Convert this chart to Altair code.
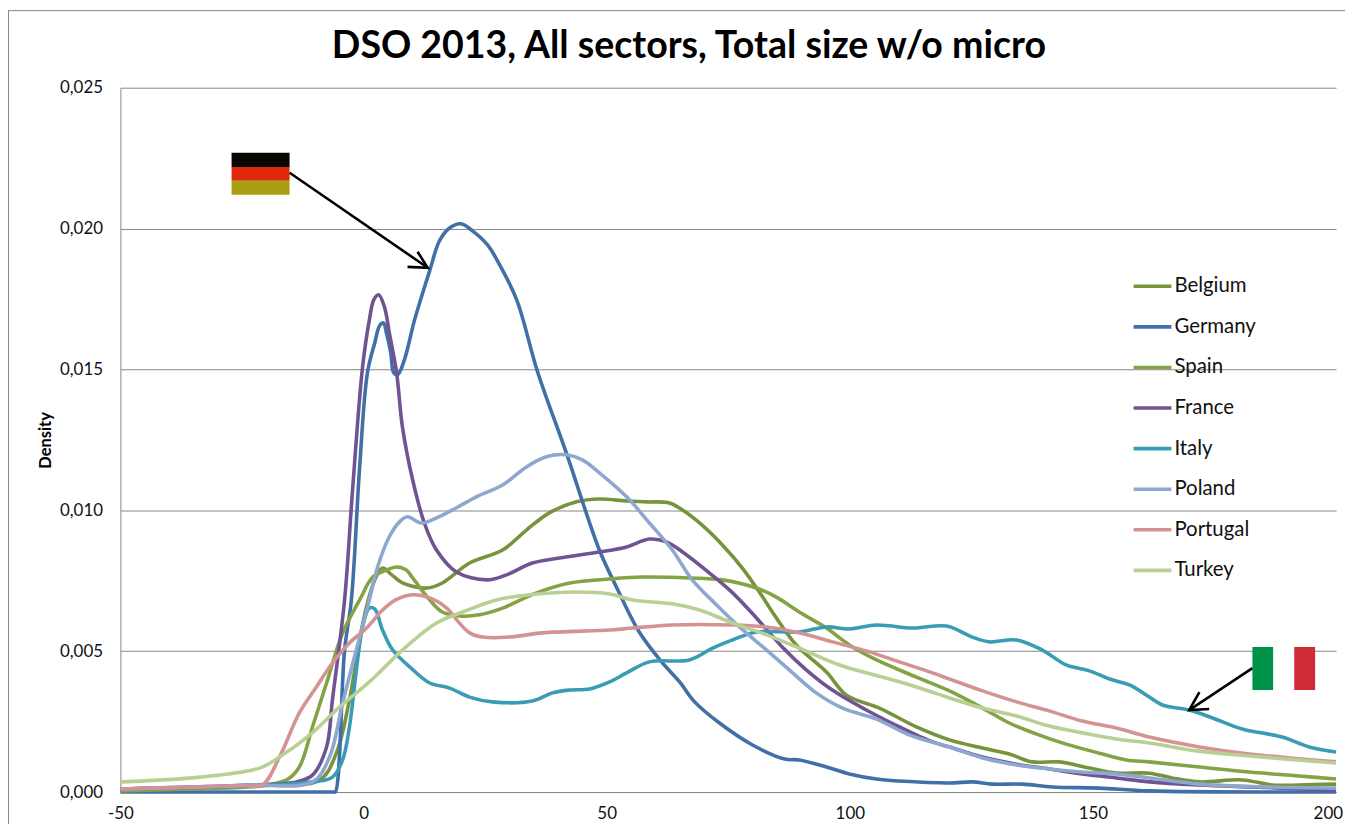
import altair as alt
import pandas as pd

# density values are in thousandths
countries = ["Belgium", "Germany", "Spain", "France", "Italy", "Poland", "Portugal", "Turkey"]
colors = ["#77933C", "#4170A6", "#84A345", "#6F5393", "#3A9CB4", "#8CA8D0", "#D49393", "#B9D094"]

belgium_x = [-50,-35,-21.4,-9,-5.6,-2.9,-.8,.6,2.3,3.9,5.8,8,13,16.2,21.8,28.6,33.5,38.2,43.8,48.5,54.1,58.2,62.9,65.6,69.1,73.8,77.9,81.4,84.9,89,95.2,99.3,106.1,113.7,120.5,127.3,132.8,137.5,143.1,149.3,154.8,161.6,166.3,171.9,180.7,186.9,192.4,200]
belgium_y = [.07,.15,.25,.43,1.38,3.27,5.4,6.57,7.53,7.95,7.71,7.42,7.24,7.42,8.13,8.59,9.3,9.91,10.3,10.4,10.33,10.3,10.26,10.01,9.55,8.77,7.95,7.1,6.18,5.22,4.26,3.44,2.98,2.31,1.85,1.56,1.35,1.07,1.07,.85,.67,.67,.5,.36,.43,.25,.25,.28]

germany_x = [-50,-25,-12,-7,-6.2,-5.8,-3.9,-2.5,-.8,.8,2.3,3.3,4.1,4.7,5.6,6.2,7,8.4,10.5,13.6,15.6,17.7,20,22.4,25.5,28,31.5,35.8,41.7,48.5,52,56.7,61.3,65,68.1,73.2,80,86.6,89.6,95.2,99.9,105.5,110.2,120.5,125.2,129.3,135.5,141.7,151.3,161.6,200]
germany_y = [0,0,0,0,0,0,5.04,6.82,11.54,14.88,15.94,16.55,16.65,16.3,15.59,14.88,14.81,15.34,16.76,18.5,19.56,20.02,20.17,19.92,19.42,18.71,17.47,14.91,12.04,8.59,7.28,5.68,4.62,3.91,3.2,2.45,1.67,1.17,1.14,.89,.64,.46,.39,.32,.36,.28,.28,.18,.14,.04,0]

spain_x = [-50,-35,-21.4,-15.8,-13.2,-10.5,-7.6,-4.3,-.8,1.9,4.7,6.8,8.8,10.1,13.6,16.2,19.7,23.8,28.6,35.6,42.4,50.6,57.4,67,73.8,80.8,84.9,89.6,95.2,99.9,105.5,113.7,120.5,127.3,132.8,139,144.5,151.3,156.9,161.6,171.9,182.2,192.4,200]
spain_y = [.04,.12,.21,.43,.89,2.31,3.87,5.65,6.82,7.63,7.88,7.99,7.88,7.6,6.82,6.39,6.25,6.29,6.53,7.07,7.42,7.56,7.63,7.6,7.53,7.24,6.92,6.39,5.82,5.22,4.69,4.08,3.59,2.98,2.45,2.02,1.7,1.38,1.14,1.07,.89,.71,.57,.46]

france_x = [-50,-35,-23.4,-13.8,-10.5,-7.6,-6.4,-3.9,-2.3,-.2,1.2,2.1,3.1,4.3,5.3,6.8,8,10.1,12.5,15,19.1,25.3,29.4,34.7,40.3,48.5,54.1,58.8,62.3,65.6,71.1,75.9,80.8,86.1,91.1,96.4,103.4,110.2,117,120.5,127.3,134.3,141,147.8,154.8,161.6,171.9,182.2,200]
france_y = [.11,.18,.25,.36,.6,1.6,3.27,6.82,10.62,15.09,16.76,17.47,17.65,17.22,16.3,14.88,12.96,11.08,9.55,8.59,7.81,7.53,7.71,8.13,8.31,8.52,8.7,8.98,8.88,8.52,7.78,7.07,6.18,5.15,4.33,3.62,2.91,2.31,1.78,1.6,1.24,.99,.82,.64,.5,.36,.25,.18,.07]

italy_x = [-50,-35,-23.4,-10.5,-6.4,-4.3,-2.9,-1.4,-.2,1.2,2.3,3.9,6,9.5,13.6,17.7,21.8,26.5,34.7,38.9,42.4,46.5,50.6,54.1,58.8,67,71.8,75.9,80.8,89.6,95.2,99.9,105.5,112.9,119.9,125.2,128.7,134.3,139.6,144.5,149.3,153.4,157.5,161.6,164.3,169.8,174.6,180.7,188.9,194.5,200]
italy_y = [.11,.16,.21,.36,.53,1.14,2.31,4.44,5.86,6.53,6.5,5.75,5.04,4.44,3.87,3.69,3.37,3.2,3.23,3.52,3.62,3.66,3.91,4.23,4.62,4.69,5.11,5.4,5.68,5.68,5.86,5.79,5.93,5.82,5.89,5.5,5.33,5.4,5.04,4.51,4.3,4.01,3.8,3.37,3.09,2.91,2.63,2.24,1.95,1.6,1.42]

poland_x = [-50,-35,-23.4,-10.5,-7,-4.3,-.8,1.2,2.9,5.3,7.4,9,11.9,15,19.1,23.2,28.6,33.5,37.6,41.7,45,48.5,54.1,58.8,63.5,67.6,72.6,77.3,82.9,87.6,93.1,98.5,105.5,112.3,120.5,127.3,134.3,141,147.8,154.8,161.6,171.9,185.6,200]
poland_y = [.11,.18,.25,.36,1.24,3.16,5.5,6.82,7.99,9.06,9.59,9.77,9.55,9.73,10.09,10.48,10.9,11.54,11.9,11.97,11.79,11.33,10.48,9.55,8.59,7.53,6.64,5.86,5.04,4.33,3.52,2.98,2.59,2.02,1.6,1.21,.96,.82,.71,.64,.5,.28,.18,.14]

portugal_x = [-50,-35,-25,-20.8,-17.3,-13.2,-9.7,-6.4,-2.9,.6,3.9,6.6,10.1,13.6,17.1,19.7,21.8,24.5,30,36.8,50.6,55.3,63.5,75.9,82.9,89.6,96.4,103.4,110.2,117,120.5,127.3,134.3,141,147.8,154.8,161.6,171.9,182.2,200]
portugal_y = [.11,.17,.22,.25,1.24,2.81,3.73,4.58,5.29,5.82,6.46,6.82,7,6.89,6.53,6,5.65,5.5,5.5,5.65,5.75,5.82,5.93,5.93,5.86,5.65,5.33,5.01,4.62,4.23,4.01,3.59,3.2,2.88,2.52,2.27,1.95,1.6,1.35,1.07]

turkey_x = [-50,-33.7,-21.4,-17.3,-11.1,-4.9,1.2,8,15,20.4,27.3,34.1,43.8,50.6,55.3,63.5,69.1,75.9,82.9,89.6,97.9,106.7,113.7,120.5,127.3,134.3,141,147.8,154.8,161.6,171.3,182.2,200]
turkey_y = [.36,.53,.85,1.24,2.02,3.02,3.91,5.04,6,6.39,6.82,7,7.1,7.03,6.82,6.68,6.46,6,5.58,5.11,4.51,4.08,3.73,3.34,2.98,2.7,2.34,2.1,1.88,1.74,1.46,1.28,1.03]

series_x = [belgium_x, germany_x, spain_x, france_x, italy_x, poland_x, portugal_x, turkey_x]
series_y = [belgium_y, germany_y, spain_y, france_y, italy_y, poland_y, portugal_y, turkey_y]

x_ticks = [-50, 0, 50, 100, 150, 200]
y_ticks = [0, 5, 10, 15, 20, 25]
title_text = "DSO 2013, All sectors, Total size w/o micro"

# flags: stripes
flag_x1 = [-27.14, -27.14, -27.14, 182.8, 187.1, 191.4]
flag_x2 = [-15.21, -15.21, -15.21, 187.1, 191.4, 195.7]
flag_y1 = [22.69, 22.19, 21.70, 5.15, 5.15, 5.15]
flag_y2 = [22.19, 21.70, 21.20, 3.62, 3.62, 3.62]
flag_fill = ["#0A0702", "#E0280A", "#A8A012", "#009246", "#FFFFFF", "#CE2B37"]

# arrows: (group, x, density)
arrow_group = ["g1","g1","g2","g2","g2","i1","i1","i2","i2","i2"]
arrow_x = [-15.2, 13.2, 11.1, 13.2, 9.05, 182.8, 169.8, 171.9, 169.8, 173.9]
arrow_y = [21.98, 18.61, 19.18, 18.61, 18.64, 4.4, 2.91, 3.55, 2.91, 2.95]

FONT = "Lato"
rows = []
for name, xs_, ys_ in zip(countries, series_x, series_y):
    for a, b in zip(xs_, ys_):
        rows.append({"country": name, "x": a, "y": b})
df = pd.DataFrame(rows)

xs = alt.Scale(domain=[-50, 200], nice=False, zero=False)
ys = alt.Scale(domain=[0, 25], nice=False, zero=False)

lines = alt.Chart(df).mark_line(strokeWidth=3.6, interpolate="catmull-rom").encode(
    x=alt.X("x:Q", scale=xs, axis=alt.Axis(
        values=x_ticks, title=None, grid=False, ticks=False,
        labelExpr="datum.value == 200 ? '' : '' + datum.value",
        domainColor="#868686", domainWidth=1, labelFont=FONT, labelFontSize=17, labelColor="#111111",
        labelPadding=14, labelFlush=False, labelOverlap=False)),
    y=alt.Y("y:Q", scale=ys, axis=alt.Axis(
        values=y_ticks, title="Density", grid=True, gridColor="#868686", gridWidth=1, ticks=False,
        labelExpr="replace(format(datum.value / 1000, '.3f'), '.', ',')",
        domainColor="#868686", domainWidth=1, labelFont=FONT, labelFontSize=17, labelColor="#111111",
        labelPadding=18, titleFont=FONT, titleFontSize=16.5, titleFontWeight="bold", titleColor="#000000",
        titleX=-75, titleY=354, titleAngle=270, titleAlign="center", titleBaseline="middle")),
    color=alt.Color("country:N", scale=alt.Scale(domain=countries, range=colors), sort=countries,
                    legend=alt.Legend(orient="none", legendX=1016.5, legendY=178.6, title=None,
                                      symbolType="stroke", symbolSize=1444, symbolStrokeWidth=3.6,
                                      labelFont=FONT, labelFontSize=20.5, labelColor="#111111",
                                      labelOffset=1, rowPadding=8.8, labelLimit=200)),
)

flags = alt.Chart(pd.DataFrame({"x1": flag_x1, "x2": flag_x2, "y1": flag_y1, "y2": flag_y2, "f": flag_fill})).mark_rect().encode(
    x=alt.X("x1:Q", scale=xs), x2="x2:Q", y=alt.Y("y1:Q", scale=ys), y2="y2:Q",
    fill=alt.Fill("f:N", scale=None, legend=None),
)

arrows = alt.Chart(pd.DataFrame({"g": arrow_group, "x": arrow_x, "y": arrow_y, "o": list(range(len(arrow_x)))})).mark_line(
    color="#000000", strokeWidth=2.6).encode(
    x=alt.X("x:Q", scale=xs), y=alt.Y("y:Q", scale=ys), detail="g:N", order="o:Q",
)

frame_top = alt.Chart(pd.DataFrame({"a": [0]})).mark_rule(color="#868686", strokeWidth=1).encode(
    x=alt.value(-112.5), x2=alt.value(1240), y=alt.value(-77.5))
frame_left = alt.Chart(pd.DataFrame({"a": [0]})).mark_rule(color="#868686", strokeWidth=1).encode(
    x=alt.value(-112.5), y=alt.value(-78), y2=alt.value(745))

title_mark = alt.Chart(pd.DataFrame({"t": [title_text]})).mark_text(
    font=FONT, fontSize=37.7, fontWeight="bold", color="#000000", align="center", baseline="alphabetic").encode(
    x=alt.value(571.5), y=alt.value(-30), text="t:N")

# the last x label is set inward so that it stays inside the page
last_label = alt.Chart(pd.DataFrame({"v": x_ticks[-1:], "t": [str(x_ticks[-1])]})).mark_text(
    font=FONT, fontSize=17, color="#111111", align="right", baseline="alphabetic", dx=7).encode(
    x=alt.X("v:Q", scale=xs), y=alt.value(735), text="t:N")

chart = alt.layer(frame_top, frame_left, lines, flags, arrows, title_mark, last_label).properties(
    width=1222, height=708,
    padding={"left": 113, "top": 78, "right": 9, "bottom": 30},
    autosize=alt.AutoSizeParams(type="none"),
).configure_view(stroke=None)

chart.save("out.html", embed_options={"renderer": "svg", "actions": False})
